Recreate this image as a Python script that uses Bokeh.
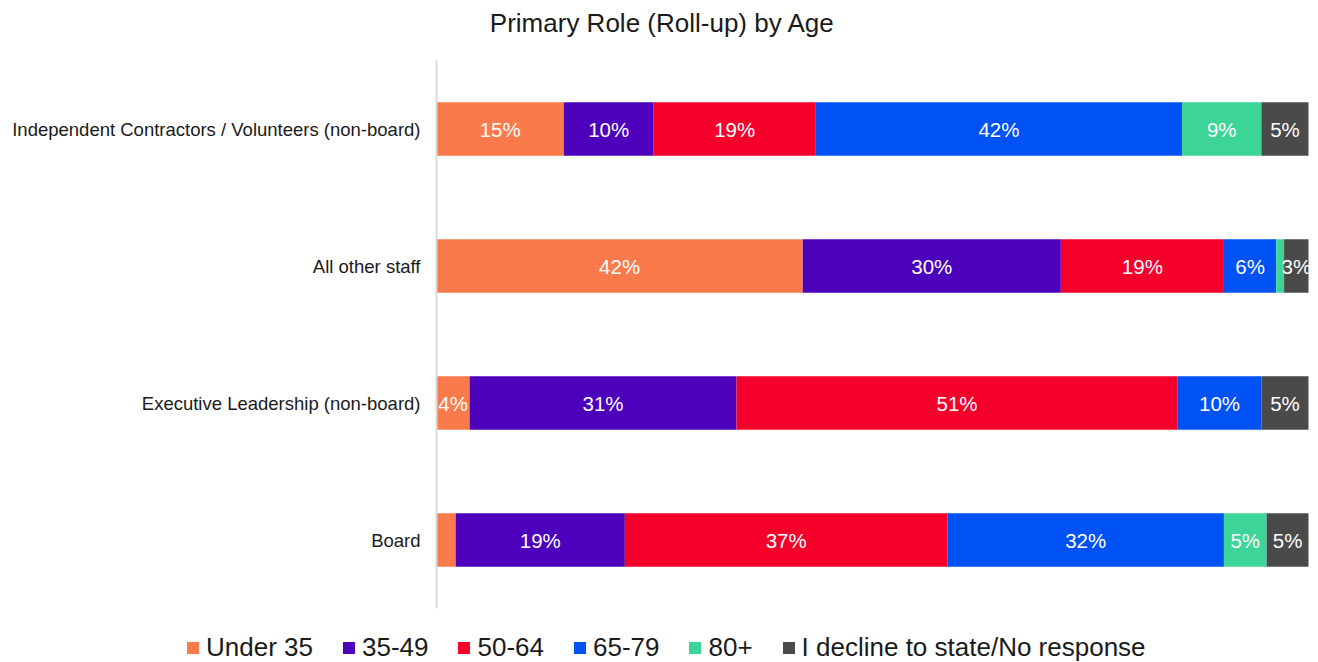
from bokeh.plotting import figure
from bokeh.models import ColumnDataSource, Legend, LegendItem, Label, Range1d
from bokeh.core.properties import value
from bokeh.embed import file_html
from bokeh.resources import INLINE

# ---- data ----
roles = ["Independent Contractors / Volunteers (non-board)", "All other staff",
         "Executive Leadership (non-board)", "Board"]
age_groups = ["Under 35", "35-49", "50-64", "65-79", "80+", "I decline to state/No response"]
under_35 = [14.6, 42.0, 3.8, 2.2]
age_35_49 = [10.3, 29.6, 30.6, 19.4]
age_50_64 = [18.6, 18.7, 50.6, 37.0]
age_65_79 = [42.0, 6.0, 9.6, 31.7]
age_80_plus = [9.1, 0.9, 0.0, 4.9]
declined = [5.4, 2.8, 5.4, 4.8]
colors = ["#FB7A4B", "#4D00BB", "#F5002B", "#0052F5", "#3DD597", "#4A4A4A"]
title_text = "Primary Role (Roll-up) by Age"

series = [under_35, age_35_49, age_50_64, age_65_79, age_80_plus, declined]
keys = ["s%d" % i for i in range(len(series))]
n = len(roles)
ypos = [n - 1 - i for i in range(n)]  # first role at the top

FONT = "Liberation Sans"

data = {"role": roles, "y": ypos}
for k, s in zip(keys, series):
    data[k] = s
src = ColumnDataSource(data)

# frame covers the whole canvas; ranges chosen so that the bar area matches the layout
p = figure(width=1318, height=662, output_backend="svg", toolbar_location=None,
           x_range=Range1d(-50.0, 101.147), y_range=Range1d(-0.894, 3.938))
p.min_border_left = 0
p.min_border_right = 0
p.min_border_top = 0
p.min_border_bottom = 0
p.xaxis.visible = False
p.yaxis.visible = False
p.xgrid.grid_line_color = None
p.ygrid.grid_line_color = None
p.outline_line_color = None

rends = p.hbar_stack(keys, y="y", height=0.39, color=colors, source=src,
                     line_color=None)

# segment labels
lx, ly, lt = [], [], []
for i in range(n):
    cum = 0.0
    for s in series:
        v = s[i]
        if v >= 2.5:
            lx.append(cum + v / 2)
            ly.append(ypos[i])
            lt.append("%d%%" % round(v))
        cum += v
p.text(x=lx, y=ly, text=lt, text_color="white", text_align="center",
       text_baseline="middle", text_font=value(FONT), text_font_size="20.5px")

# category axis: line + labels
p.segment(x0=[0], y0=[-0.5], x1=[0], y1=[n - 0.5], line_color="#D9D9D9", line_width=2)
p.text(x=[0] * n, y=ypos, text=roles, x_offset=-16, text_align="right",
       text_baseline="middle", text_font=value(FONT), text_font_size="18.5px",
       text_color="#1A1A1A")

# title
p.add_layout(Label(x=662, y=640, x_units="screen", y_units="screen", text=title_text,
                   text_align="center", text_baseline="middle", text_font=FONT,
                   text_font_size="26px", text_color="#1A1A1A"))

# legend
items = [LegendItem(label=g, renderers=[r]) for g, r in zip(age_groups, rends)]
legend = Legend(items=items, orientation="horizontal", location=(185, -1),
                glyph_width=15, glyph_height=15, label_standoff=6, spacing=28,
                padding=0, margin=0, label_text_font=FONT, label_text_font_size="26px",
                label_height=24, label_text_color="#1A1A1A",
                background_fill_alpha=0, border_line_color=None)
p.add_layout(legend, "center")

open("out.html", "w").write(file_html(p, INLINE))
